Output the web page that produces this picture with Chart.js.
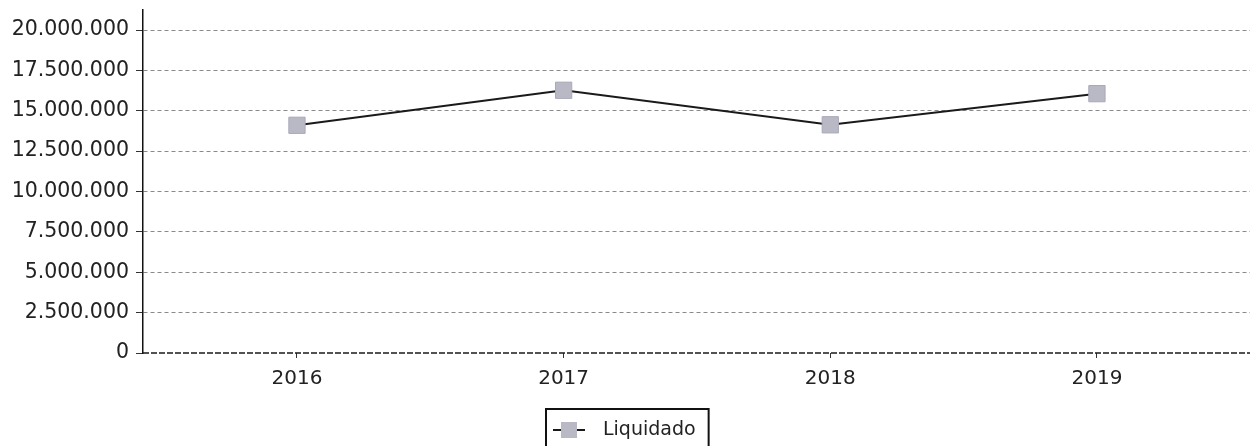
<!DOCTYPE html>
<html>
<head>
<meta charset="utf-8">
<script src="https://cdn.jsdelivr.net/npm/chart.js@4/dist/chart.umd.min.js"></script>
<style>
  html, body { margin: 0; padding: 0; background: #fff; }
  #wrap { width: 1254px; height: 446px; }
</style>
</head>
<body>
<div id="wrap"><canvas id="c" width="1254" height="446"></canvas></div>
<script>
const years = [2016, 2017, 2018, 2019];
const liquidado = [14100000, 16270000, 14130000, 16060000];
const yTicks = [0, 2500000, 5000000, 7500000, 10000000, 12500000, 15000000, 17500000, 20000000];
const seriesLabel = 'Liquidado';

const FONT = 'DejaVu Sans';
const TXT = '#222';

function fmt(v) {
  return String(Math.round(v)).replace(/\B(?=(\d{3})+(?!\d))/g, '.');
}

const legendPlugin = {
  id: 'boxLegend',
  afterDraw(chart) {
    const ctx = chart.ctx;
    const ds = chart.data.datasets[0];
    ctx.save();
    ctx.font = '19px "' + FONT + '"';
    const tw = ctx.measureText(ds.label).width;
    const markerW = 32, gap = 18, padL = 7, padR = 13;
    const w = padL + markerW + gap + tw + padR;
    const h = 40;
    const x0 = Math.round(chart.width / 2 - w / 2);
    const y0 = 409;
    ctx.strokeStyle = '#111';
    ctx.lineWidth = 2;
    ctx.strokeRect(x0, y0, w, h);
    const cy = y0 + 21;
    ctx.strokeStyle = ds.borderColor;
    ctx.lineWidth = 2;
    ctx.beginPath();
    ctx.moveTo(x0 + padL, cy);
    ctx.lineTo(x0 + padL + markerW, cy);
    ctx.stroke();
    ctx.fillStyle = ds.pointBackgroundColor;
    ctx.fillRect(x0 + padL + markerW / 2 - 8, cy - 8, 16, 16);
    ctx.fillStyle = TXT;
    ctx.textBaseline = 'middle';
    ctx.textAlign = 'left';
    ctx.fillText(ds.label, x0 + padL + markerW + gap, cy);
    ctx.restore();
  }
};

// dashed baseline drawn along value 0
const baselinePlugin = {
  id: 'baseline',
  afterDatasetsDraw(chart) {
    const { ctx, chartArea } = chart;
    const y = chart.scales.y.getPixelForValue(0);
    ctx.save();
    ctx.strokeStyle = '#1a1a1a';
    ctx.lineWidth = 1.6;
    ctx.setLineDash([6, 2]);
    ctx.beginPath();
    ctx.moveTo(chartArea.left, y);
    ctx.lineTo(chartArea.right, y);
    ctx.stroke();
    ctx.restore();
  }
};

new Chart(document.getElementById('c'), {
  type: 'line',
  data: {
    datasets: [{
      label: seriesLabel,
      data: years.map((y, i) => ({ x: y, y: liquidado[i] })),
      borderColor: '#1a1a1a',
      borderWidth: 2,
      pointStyle: 'rect',
      pointRadius: 11.5,
      pointHoverRadius: 11.5,
      pointBackgroundColor: '#b9b9c6',
      pointBorderColor: '#a9a9b8',
      pointBorderWidth: 1,
      tension: 0,
      fill: false
    }]
  },
  options: {
    responsive: false,
    animation: false,
    events: [],
    layout: { autoPadding: false, padding: { top: 10, right: 4, bottom: 46, left: 0 } },
    plugins: {
      legend: { display: false },
      tooltip: { enabled: false }
    },
    scales: {
      x: {
        type: 'linear',
        min: 2015.4226,
        max: 2019.574,
        afterBuildTicks(scale) { scale.ticks = years.map(v => ({ value: v })); },
        afterFit(scale) { scale.height = 47; scale.paddingLeft = 0; scale.paddingRight = 0; },
        grid: {
          drawOnChartArea: false,
          drawTicks: true,
          tickLength: 5,
          color: '#333',
          lineWidth: 1
        },
        border: { display: false },
        ticks: {
          color: TXT,
          font: { family: FONT, size: 20 },
          padding: 9,
          maxRotation: 0,
          callback: v => String(v)
        }
      },
      y: {
        min: 0,
        max: 21240000,
        afterBuildTicks(scale) { scale.ticks = yTicks.map(v => ({ value: v })); },
        afterFit(scale) { scale.width = 143; scale.paddingTop = 0; scale.paddingBottom = 0; },
        grid: {
          color: (c) => c.tick && c.tick.value === 0 ? 'rgba(0,0,0,0)' : '#8a8a8a',
          lineWidth: 1,
          drawTicks: true,
          tickLength: 7,
          tickColor: '#333',
          tickBorderDash: []
        },
        border: { display: true, color: '#111', width: 1.5, dash: [4, 3] },
        ticks: {
          color: TXT,
          font: { family: FONT, size: 20.5 },
          padding: 7,
          callback: v => fmt(v)
        }
      }
    }
  },
  plugins: [baselinePlugin, legendPlugin]
});
</script>
</body>
</html>
